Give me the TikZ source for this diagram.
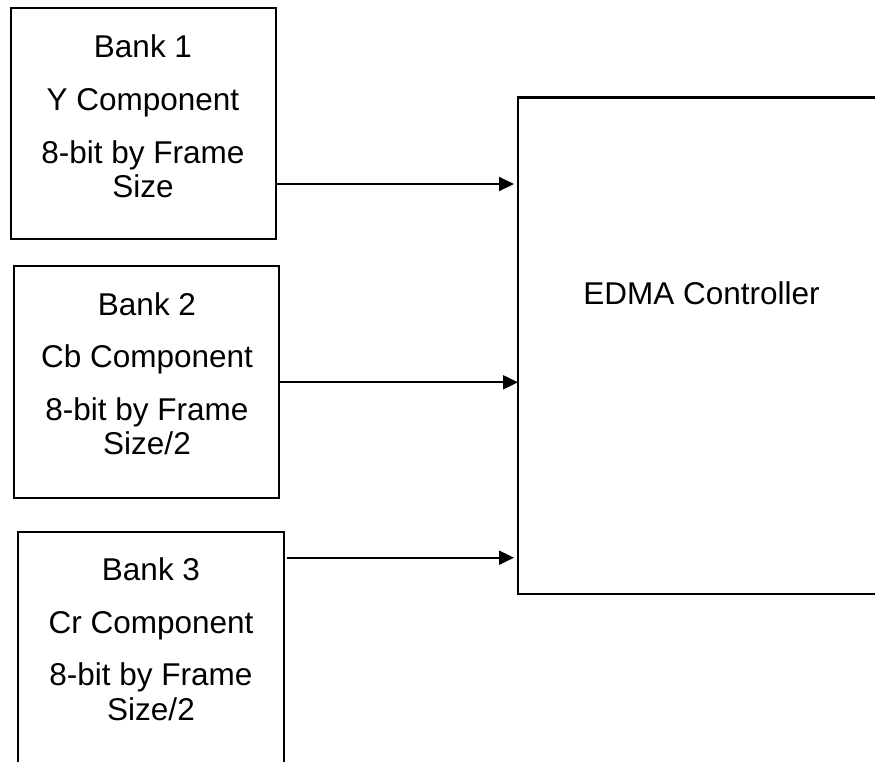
\documentclass[tikz,border=0pt]{standalone}
\usepackage{fontspec}
\setmainfont{Liberation Sans}
\usetikzlibrary{arrows.meta}
\tikzset{
  bankbox/.style={draw=black, line width=2pt, rectangle, inner sep=0pt, outer sep=0pt, fill=none},
  lbl/.style={anchor=base, inner sep=0pt, font=\fontsize{31.5}{35}\selectfont},
  arr/.style={draw=black, line width=2pt, -{Triangle[length=15pt,width=14pt]}}
}
\begin{document}
\begin{tikzpicture}[x=1pt,y=-1pt]
\useasboundingbox (0,0) rectangle (875,761);
\clip (0,0) rectangle (875,761);
\fill[white] (0,0) rectangle (875,761);
% boxes
\node[bankbox, minimum width=265pt, minimum height=231pt] (b1) at (143.5,123.5) {};
\node[bankbox, minimum width=265pt, minimum height=232pt] (b2) at (146.5,382) {};
\node[bankbox, minimum width=265.5pt, minimum height=268pt] (b3) at (150.75,666) {};
\node[bankbox, line width=2.5pt, minimum width=382pt, minimum height=496.3pt] (edma) at (709,345.85) {};
% texts
\node[lbl] (t11) at (143,57.3) {Bank 1};
\node[lbl] (t12) at (143,110) {Y Component};
\node[lbl] (t13) at (143,163) {8-bit by Frame};
\node[lbl] (t14) at (143,197) {Size};
\node[lbl] (t21) at (147,315) {Bank 2};
\node[lbl] (t22) at (147,367.5) {Cb Component};
\node[lbl] (t23) at (147,420) {8-bit by Frame};
\node[lbl] (t24) at (147,454.5) {Size/2};
\node[lbl] (t31) at (151,580.7) {Bank 3};
\node[lbl] (t32) at (151,633) {Cr Component};
\node[lbl] (t33) at (151,685.5) {8-bit by Frame};
\node[lbl] (t34) at (151,720) {Size/2};
\node[lbl] (te) at (701.5,304.3) {EDMA Controller};
% arrows
\coordinate (a1) at (0,184);
\coordinate (a2) at (0,382.3);
\coordinate (a3) at (0,557.7);
\draw[arr] (b1.east |- a1) -- ([xshift=-4pt]edma.west |- a1);
\draw[arr] (b2.east |- a2) -- (edma.west |- a2);
\draw[arr] ([xshift=3pt]b3.east |- a3) -- ([xshift=-4pt]edma.west |- a3);
\end{tikzpicture}
\end{document}
